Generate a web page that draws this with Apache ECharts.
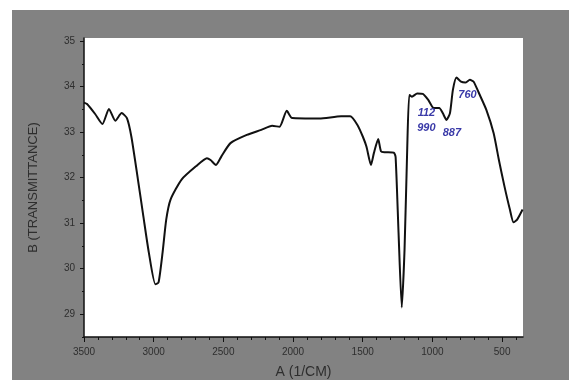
<!DOCTYPE html>
<html>
<head>
<meta charset="utf-8">
<script src="https://cdn.jsdelivr.net/npm/echarts@6/dist/echarts.min.js"></script>
<style>html,body{margin:0;padding:0;background:#fff}#c{width:569px;height:380px}</style>
</head>
<body>
<div id="c"></div>
<script>
// Data
var wavenumber = [3500,3478,3420,3368,3321,3275,3230,3192,3160,3113,3074,3035,2988,2965,2936,2910,2879,2800,2697,2618,2592,2553,2514,2449,2332,2228,2150,2097,2045,2006,1811,1655,1590,1538,1499,1473,1441,1420,1389,1369,1342,1277,1264,1243,1220,1200,1181,1166,1147,1109,1069,1030,990,951,926,899,874,853,827,795,764,731,704,665,613,561,523,483,444,418,392,353];
var transmittance = [33.65,33.62,33.4,33.18,33.51,33.25,33.42,33.31,32.9,31.96,31.15,30.36,29.66,29.7,30.36,31.08,31.52,31.96,32.25,32.43,32.39,32.28,32.47,32.76,32.94,33.05,33.14,33.12,33.47,33.31,33.3,33.35,33.35,33.16,32.9,32.68,32.28,32.54,32.85,32.58,32.56,32.55,32.45,30.79,29.15,30.42,32.61,33.82,33.78,33.85,33.84,33.71,33.53,33.53,33.42,33.27,33.42,33.93,34.2,34.11,34.09,34.15,34.11,33.85,33.49,32.98,32.39,31.81,31.3,31.02,31.08,31.3];
var xTickLabels = [3500,3000,2500,2000,1500,1000,500];
var yTickLabels = [29,30,31,32,33,34,35];
var annotText = ['760','112','990','887'];
var annotX = [748,1043,1043,860];
var annotY = [33.82,33.42,33.1,32.99];

var seriesData = wavenumber.map(function(v,i){return [v, transmittance[i]];});
var xMinor = []; for (var v = 400; v <= 3500; v += 100) xMinor.push(v);
var yMinor = []; for (var t = 28.5; t <= 35.01; t += 0.5) yMinor.push(t);
var marks = annotText.map(function(s,i){
  return {coord:[annotX[i], annotY[i]], value:s, symbolSize:0,
          label:{show:true, position:'inside', formatter:s}};
});

var chart = echarts.init(document.getElementById('c'), null, {renderer:'canvas'});
var txt = '#2e2e2e';
chart.setOption({
  animation:false,
  backgroundColor:'#ffffff',
  textStyle:{fontFamily:'Liberation Sans, Arial, sans-serif'},
  graphic:[{type:'rect', z:-10, shape:{x:12,y:10,width:557,height:370}, style:{fill:'#828282'}}],
  grid:{left:84, right:46, top:38, bottom:43, show:true, backgroundColor:'#ffffff', borderWidth:0,
        containLabel:false, outerBoundsMode:'none'},
  xAxis:[{
    type:'value', inverse:true, min:350, max:3500,
    name:'A (1/CM)', nameLocation:'middle', nameGap:28,
    nameTextStyle:{color:txt, fontSize:14},
    axisLine:{show:true, onZero:false, lineStyle:{color:'#111', width:1.5}},
    axisTick:{show:true, customValues:xTickLabels, length:5, lineStyle:{color:'#111'}},
    axisLabel:{show:true, customValues:xTickLabels, color:txt, fontSize:10, margin:10,
               formatter:function(v){return String(v);}},
    splitLine:{show:false}
  },{
    type:'value', inverse:true, min:350, max:3500, position:'bottom', gridIndex:0,
    axisLine:{show:false}, axisLabel:{show:false},
    axisTick:{show:true, customValues:xMinor, length:3, lineStyle:{color:'#111'}},
    splitLine:{show:false}
  }],
  yAxis:[{
    type:'value', min:28.5, max:35.07,
    name:'B (TRANSMITTANCE)', nameLocation:'middle', nameGap:44, nameRotate:90,
    nameTextStyle:{color:txt, fontSize:13},
    axisLine:{show:true, onZero:false, lineStyle:{color:'#111', width:1.5}},
    axisTick:{show:true, customValues:yTickLabels, length:4, lineStyle:{color:'#111'}},
    axisLabel:{show:true, customValues:yTickLabels, color:txt, fontSize:10, margin:9,
               formatter:function(v){return String(v);}},
    splitLine:{show:false}
  },{
    type:'value', min:28.5, max:35.07, position:'left', gridIndex:0,
    axisLine:{show:false}, axisLabel:{show:false},
    axisTick:{show:true, customValues:yMinor, length:2, lineStyle:{color:'#111'}},
    splitLine:{show:false}
  }],
  series:[{
    type:'line', data:seriesData, showSymbol:false, smooth:0.2,
    lineStyle:{color:'#111', width:2},
    markPoint:{
      symbol:'circle', symbolSize:0, silent:true,
      label:{color:'#3a3aa8', fontSize:11, fontStyle:'italic', fontWeight:'bold'},
      data:marks
    }
  }]
});
</script>
</body>
</html>
